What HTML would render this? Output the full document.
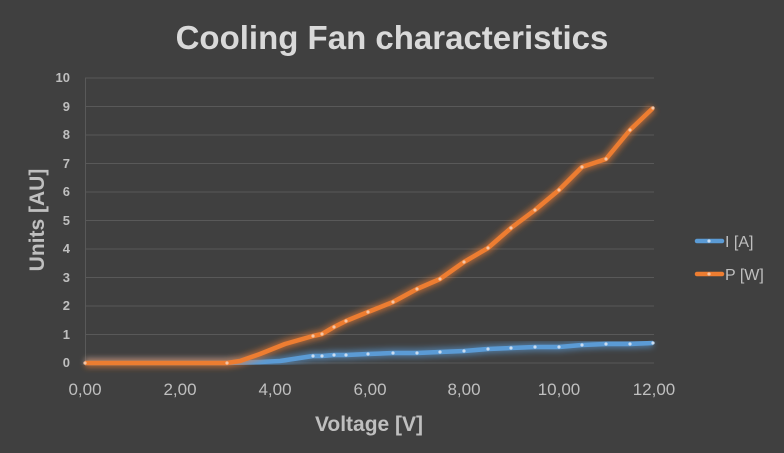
<!DOCTYPE html>
<html><head><meta charset="utf-8"><style>
body{margin:0;background:#404040;}
svg{display:block;font-family:"Liberation Sans",sans-serif;}
</style></head><body>
<svg width="784" height="453" viewBox="0 0 784 453" xmlns="http://www.w3.org/2000/svg">
<defs><filter id="g" x="-10%" y="-10%" width="120%" height="120%"><feGaussianBlur stdDeviation="3"/></filter></defs>
<rect width="784" height="453" fill="#404040"/>
<text x="392" y="49" text-anchor="middle" font-size="33" font-weight="bold" fill="#d9d9d9">Cooling Fan characteristics</text>
<g stroke="#595959" stroke-width="1">
<line x1="85" y1="78" x2="654" y2="78"/><line x1="85" y1="106.5" x2="654" y2="106.5"/><line x1="85" y1="135" x2="654" y2="135"/><line x1="85" y1="163.5" x2="654" y2="163.5"/><line x1="85" y1="192" x2="654" y2="192"/><line x1="85" y1="220.5" x2="654" y2="220.5"/><line x1="85" y1="249" x2="654" y2="249"/><line x1="85" y1="277.5" x2="654" y2="277.5"/><line x1="85" y1="306" x2="654" y2="306"/><line x1="85" y1="334.5" x2="654" y2="334.5"/><line x1="85" y1="363" x2="654" y2="363"/>
<line x1="85.5" y1="78" x2="85.5" y2="363"/>
</g>
<g font-size="13" font-weight="bold" fill="#bfbfbf" text-anchor="end">
<text x="70" y="82">10</text><text x="70" y="111">9</text><text x="70" y="139">8</text><text x="70" y="168">7</text><text x="70" y="196">6</text><text x="70" y="225">5</text><text x="70" y="253">4</text><text x="70" y="282">3</text><text x="70" y="310">2</text><text x="70" y="339">1</text><text x="70" y="367">0</text>
</g>
<g font-size="17" fill="#bfbfbf" text-anchor="middle">
<text x="85" y="395">0,00</text><text x="180" y="395">2,00</text><text x="275" y="395">4,00</text><text x="370" y="395">6,00</text><text x="464" y="395">8,00</text><text x="559" y="395">10,00</text><text x="654" y="395">12,00</text>
</g>
<text x="369" y="431" text-anchor="middle" font-size="21" font-weight="bold" fill="#bfbfbf">Voltage [V]</text>
<text transform="translate(44,220) rotate(-90)" text-anchor="middle" font-size="21" font-weight="bold" fill="#bfbfbf">Units [AU]</text>
<polyline filter="url(#g)" fill="none" stroke="#5b9bd5" stroke-opacity="0.6" stroke-width="9" stroke-linejoin="round" points="85,363 227,363 260,362 280,361 313,356 322,356 334,355 346,355 368,354 393,353 417,353 440,352 464,351 488,349 511,348 535,347 559,347 582,345 606,344 630,344 653,343"/>
<polyline fill="none" stroke="#5b9bd5" stroke-width="4.5" stroke-linejoin="round" points="85,363 227,363 260,362 280,361 313,356 322,356 334,355 346,355 368,354 393,353 417,353 440,352 464,351 488,349 511,348 535,347 559,347 582,345 606,344 630,344 653,343"/>
<polyline filter="url(#g)" fill="none" stroke="#ed7d31" stroke-opacity="0.6" stroke-width="9" stroke-linejoin="round" points="85,363 227,363 240,361 260,354 285,344 313,336 322,334 334,327 346,321 368,312 393,302 417,289 440,279 464,262 488,248 511,228 535,210 559,190 582,167 606,159 630,130 653,108"/>
<polyline fill="none" stroke="#ed7d31" stroke-width="4.5" stroke-linejoin="round" points="85,363 227,363 240,361 260,354 285,344 313,336 322,334 334,327 346,321 368,312 393,302 417,289 440,279 464,262 488,248 511,228 535,210 559,190 582,167 606,159 630,130 653,108"/>
<g fill="#f4c4a4">
<circle cx="85" cy="363" r="1.6"/><circle cx="227" cy="363" r="1.6"/><circle cx="313" cy="336" r="1.6"/><circle cx="322" cy="334" r="1.6"/><circle cx="334" cy="327" r="1.6"/><circle cx="346" cy="321" r="1.6"/><circle cx="368" cy="312" r="1.6"/><circle cx="393" cy="302" r="1.6"/><circle cx="417" cy="289" r="1.6"/><circle cx="440" cy="279" r="1.6"/><circle cx="464" cy="262" r="1.6"/><circle cx="488" cy="248" r="1.6"/><circle cx="511" cy="228" r="1.6"/><circle cx="535" cy="210" r="1.6"/><circle cx="559" cy="190" r="1.6"/><circle cx="582" cy="167" r="1.6"/><circle cx="606" cy="159" r="1.6"/><circle cx="630" cy="130" r="1.6"/><circle cx="653" cy="108" r="1.6"/>
</g>
<g fill="#c9dcf0">
<circle cx="313" cy="356" r="1.6"/><circle cx="322" cy="356" r="1.6"/><circle cx="334" cy="355" r="1.6"/><circle cx="346" cy="355" r="1.6"/><circle cx="368" cy="354" r="1.6"/><circle cx="393" cy="353" r="1.6"/><circle cx="417" cy="353" r="1.6"/><circle cx="440" cy="352" r="1.6"/><circle cx="464" cy="351" r="1.6"/><circle cx="488" cy="349" r="1.6"/><circle cx="511" cy="348" r="1.6"/><circle cx="535" cy="347" r="1.6"/><circle cx="559" cy="347" r="1.6"/><circle cx="582" cy="345" r="1.6"/><circle cx="606" cy="344" r="1.6"/><circle cx="630" cy="344" r="1.6"/><circle cx="653" cy="343" r="1.6"/>
</g>
<line x1="697" y1="241" x2="722" y2="241" stroke="#5b9bd5" stroke-width="4.5" stroke-linecap="round"/>
<circle cx="709" cy="241" r="1.6" fill="#c9dcf0"/>
<text x="725" y="247" font-size="16" fill="#bfbfbf">I [A]</text>
<line x1="697" y1="274" x2="722" y2="274" stroke="#ed7d31" stroke-width="4.5" stroke-linecap="round"/>
<circle cx="709" cy="274" r="1.6" fill="#f4c4a4"/>
<text x="725" y="280" font-size="16" fill="#bfbfbf">P [W]</text>
</svg>
</body></html>
